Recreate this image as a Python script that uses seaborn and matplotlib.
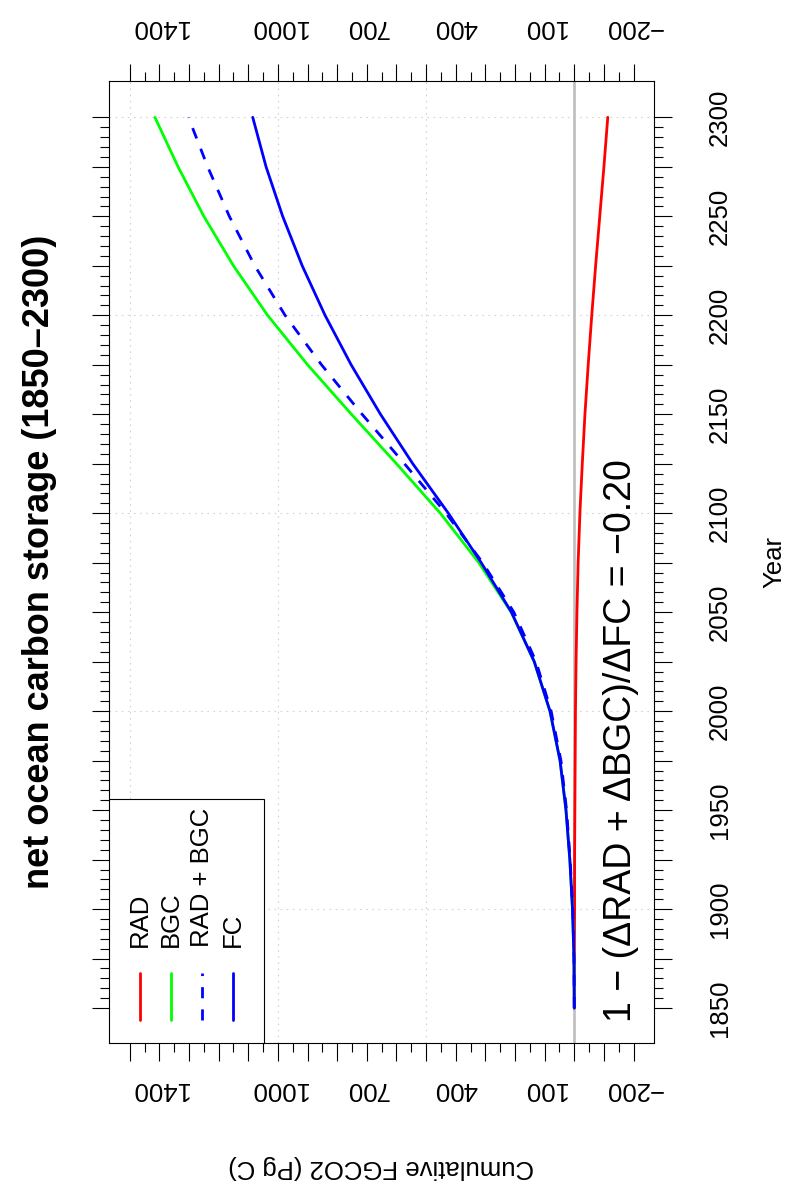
import numpy as np
import pandas as pd
import matplotlib
matplotlib.use("Agg")
import matplotlib.pyplot as plt
from matplotlib.ticker import FixedLocator, FixedFormatter
from matplotlib.patches import Rectangle
import seaborn as sns

# Cumulative ocean carbon uptake (Pg C) per experiment
years = [1850, 1875, 1900, 1925, 1950, 1975, 2000, 2025, 2050, 2075,
         2100, 2125, 2150, 2175, 2200, 2225, 2250, 2275, 2300]
rad = [0, 0, -1, -1, -2, -3, -4, -6, -9, -13,
       -19, -27, -36, -47, -59, -72, -86, -100, -113]
bgc = [0, 1, 6, 15, 28, 48, 82, 135, 213, 322,
       452, 600, 752, 900, 1035, 1150, 1250, 1337, 1415]
rad_bgc = [0, 1, 5, 14, 26, 45, 78, 129, 204, 309,
           433, 573, 716, 853, 976, 1078, 1164, 1237, 1302]
fc = [0, 1, 6, 15, 28, 48, 82, 135, 212, 314,
      425, 545, 654, 753, 841, 918, 984, 1040, 1085]

series_names = ["RAD", "BGC", "RAD + BGC", "FC"]
series_values = [rad, bgc, rad_bgc, fc]
series_colors = ["#FF0000", "#00FF00", "#0000FF", "#0000FF"]
series_styles = ["-", "-", (0, (4, 4)), "-"]

value_ticks_major = list(range(-200, 1501, 100))
value_ticks_minor = list(range(-150, 1500, 100))
value_labels = {-200: "\u2212200", 100: "100", 400: "400", 700: "700",
                1000: "1000", 1400: "1400"}
year_ticks_major = list(range(1850, 2301, 25))
year_ticks_minor = list(range(1850, 2301, 5))
value_grid = [500, 1000, 1500]
year_grid = [1900, 2000, 2100, 2200, 2300]

title = "net ocean carbon storage (1850\u20132300)"
xlabel = "Cumulative FGCO2 (Pg C)"
ylabel = "Year"

records = []
for name, vals in zip(series_names, series_values):
    for yr, v in zip(years, vals):
        records.append({"series": name, "year": yr, "value": v})
df = pd.DataFrame(records)

sns.set_style("ticks")
plt.rcParams["font.family"] = ["Liberation Sans", "DejaVu Sans"]
plt.rcParams["axes.linewidth"] = 0.8
plt.rcParams["text.color"] = "black"
plt.rcParams["axes.labelcolor"] = "black"
plt.rcParams["xtick.color"] = "black"
plt.rcParams["ytick.color"] = "black"
plt.rcParams["axes.edgecolor"] = "black"

W, H = 801, 1204
fig = plt.figure(figsize=(W / 100, H / 100), dpi=100)
box_l, box_r, box_t, box_b = 109.3, 653.7, 81.3, 1042.7
ax = fig.add_axes([box_l / W, 1 - box_b / H, (box_r - box_l) / W, (box_b - box_t) / H])


def ax_frac(px, py):
    return (px - box_l) / (box_r - box_l), (box_b - py) / (box_b - box_t)


# dotted grid and zero reference line
for g in value_grid:
    ax.axvline(g, color="#D3D3D3", lw=0.8, ls=(0, (1.5, 4)), zorder=0)
for g in year_grid:
    ax.axhline(g, color="#D3D3D3", lw=0.8, ls=(0, (1.5, 4)), zorder=0)
ax.axvline(0, color="#BEBEBE", lw=1.9, zorder=1)

for name, color, style in zip(series_names, series_colors, series_styles):
    sub = df[df["series"] == name]
    sns.lineplot(data=sub, x="value", y="year", orient="y", estimator=None,
                 color=color, lw=2.0, linestyle=style, ax=ax, legend=False,
                 zorder=3)

ax.set_xlim(1569, -268)
ax.set_ylim(1832.5, 2318.2)

tick_labels = [value_labels.get(v, "") for v in value_ticks_major]

# value axis (horizontal): ticks top and bottom, labels bottom here
ax.xaxis.set_major_locator(FixedLocator(value_ticks_major))
ax.xaxis.set_major_formatter(FixedFormatter(tick_labels))
ax.xaxis.set_minor_locator(FixedLocator(value_ticks_minor))
ax.tick_params(axis="x", which="both", top=True, bottom=True, labeltop=False,
               labelbottom=True, direction="out", width=0.8, labelsize=18.5,
               colors="black")
ax.tick_params(axis="x", which="major", length=12.6, pad=21.0)
ax.tick_params(axis="x", which="minor", length=6.7)

# year axis (vertical): ticks left and right, labels right
ax.yaxis.set_major_locator(FixedLocator(year_ticks_major))
ax.yaxis.set_major_formatter(FixedFormatter([str(y) if y % 50 == 0 else "" for y in year_ticks_major]))
ax.yaxis.set_minor_locator(FixedLocator(year_ticks_minor))
ax.tick_params(axis="y", which="both", left=True, right=True, labelleft=False,
               labelright=True, direction="out", width=0.8, labelsize=18.5,
               colors="black")
ax.tick_params(axis="y", which="major", length=12.6, pad=35.0)
ax.tick_params(axis="y", which="minor", length=6.7)

for t in ax.xaxis.get_major_ticks():
    for lab in (t.label1, t.label2):
        lab.set_rotation(180)
        lab.set_va("center")
        lab.set_ha("center")
for t in ax.yaxis.get_major_ticks():
    for lab in (t.label1, t.label2):
        lab.set_rotation(90)
        lab.set_va("center")
        lab.set_ha("center")

# labels of the top value axis
top = ax.secondary_xaxis("top")
top.xaxis.set_major_locator(FixedLocator(value_ticks_major))
top.xaxis.set_major_formatter(FixedFormatter(tick_labels))
top.tick_params(axis="x", which="both", length=0, pad=39.0, labelsize=18.5,
                colors="black")
top.xaxis.set_minor_locator(FixedLocator([]))
top.spines["top"].set_visible(False)
for t in top.xaxis.get_major_ticks():
    for lab in (t.label1, t.label2):
        lab.set_rotation(180)
        lab.set_va("center")
        lab.set_ha("center")

for s in ax.spines.values():
    s.set_visible(True)
    s.set_color("black")
    s.set_linewidth(0.8)

ax.set_xlabel("")
ax.set_ylabel("")

# axis titles and main title
fig.text(381.5 / W, 1 - 1167 / H, xlabel, rotation=180, ha="center", va="center", fontsize=18.5)
fig.text(774 / W, 1 - 562 / H, ylabel, rotation=90, ha="center", va="center", fontsize=18.5)
fig.text(40 / W, 1 - 562 / H, title, rotation=90, ha="center", va="center",
         fontsize=26, fontweight="bold")

# legend box with vertical keys
lx1, ly1 = ax_frac(264, 799)
ax.add_patch(Rectangle((0, 0), lx1, ly1, transform=ax.transAxes, facecolor="white",
                       edgecolor="black", lw=0.8, zorder=5))
key_x = [140.3, 171.0, 202.3, 233.3]
for name, color, style, kx in zip(series_names, series_colors, series_styles, key_x):
    fx, fy0 = ax_frac(kx, 1020)
    _, fy1 = ax_frac(kx, 972.7)
    ax.plot([fx, fx], [fy0, fy1], transform=ax.transAxes, color=color, lw=2.0,
            linestyle=style, zorder=6)
    _, ty = ax_frac(kx, 946.7)
    ax.text(fx, ty, name, transform=ax.transAxes, rotation=90, rotation_mode="anchor",
            ha="left", va="center", fontsize=18.5, zorder=6)

# feedback ratio from the 2300 values
ratio = 1 - rad_bgc[-1] / fc[-1]
ratio_str = f"{ratio:.2f}".replace("-", "\u2212")
ann = "1 \u2212 (\u0394RAD + \u0394BGC)/\u0394FC = " + ratio_str
axx, axy = ax_frac(631, 1022)
ax.text(axx, axy, ann, transform=ax.transAxes, rotation=90, rotation_mode="anchor",
        ha="left", va="baseline", fontsize=27, zorder=6)

fig.savefig("out.png", dpi=100)
